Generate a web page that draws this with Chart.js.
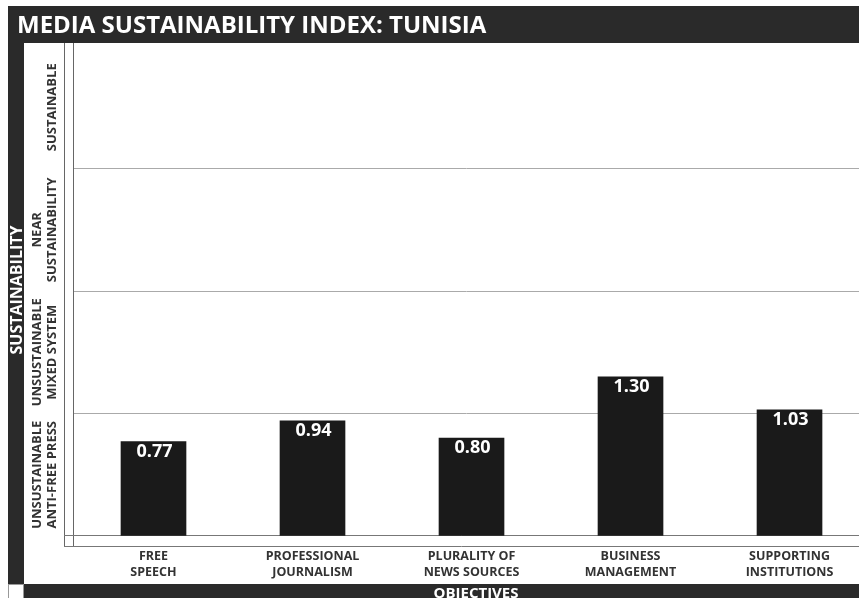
<!DOCTYPE html>
<html lang="en">
<head>
    <meta charset="UTF-8">
    <title>Media Sustainability Index: Tunisia</title>
    <script src="https://cdn.jsdelivr.net/npm/chart.js"></script>
    <style>
        body {
            margin: 0;
            background: #fff;
        }
        #wrap {
            position: relative;
            width: 859px;
            height: 598px;
        }
    </style>
</head>
<body>
    <div id="wrap">
        <canvas id="msiChart" width="859" height="598"></canvas>
    </div>

    <script>
        // Data
        const objectives = [
            ['FREE', 'SPEECH'],
            ['PROFESSIONAL', 'JOURNALISM'],
            ['PLURALITY OF', 'NEWS SOURCES'],
            ['BUSINESS', 'MANAGEMENT'],
            ['SUPPORTING', 'INSTITUTIONS']
        ];
        const scores = [0.77, 0.94, 0.80, 1.30, 1.03];
        const bands = [
            ['UNSUSTAINABLE', 'ANTI-FREE PRESS'],
            ['UNSUSTAINABLE', 'MIXED SYSTEM'],
            ['NEAR', 'SUSTAINABILITY'],
            ['SUSTAINABLE']
        ];
        const bandTicks = [0, 1, 2, 3, 4];

        const dark = '#2a2a2a';
        const font = "'Open Sans', sans-serif";

        // frame: title bar, side strip, bottom bar, axis lines, band labels
        const framePlugin = {
            id: 'frame',
            beforeDraw(chart) {
                const ctx = chart.ctx;
                const area = chart.chartArea;
                const y = chart.scales.y;
                ctx.save();
                ctx.fillStyle = dark;
                ctx.fillRect(8, 6, 851, 37);
                ctx.fillRect(8, 43, 16, 541);
                ctx.fillRect(24, 584, 835, 14);
                // little white box bottom-left
                ctx.fillStyle = '#fff';
                ctx.fillRect(9, 585, 14, 13);
                ctx.strokeStyle = '#999';
                ctx.lineWidth = 1;
                ctx.strokeRect(8.5, 584.5, 15, 14);

                // title
                ctx.fillStyle = '#fff';
                ctx.font = 'bold 24px ' + font;
                ctx.textBaseline = 'alphabetic';
                ctx.textAlign = 'left';
                ctx.fillText('MEDIA SUSTAINABILITY INDEX: TUNISIA', 17, 33);

                // bottom axis title
                ctx.font = 'bold 15px ' + font;
                ctx.textAlign = 'center';
                ctx.fillText('OBJECTIVES', 476, 598);

                // side axis title
                ctx.save();
                ctx.translate(17, 290);
                ctx.rotate(-Math.PI / 2);
                ctx.font = 'bold 16px ' + font;
                ctx.textBaseline = 'middle';
                ctx.fillText('SUSTAINABILITY', 0, 0);
                ctx.restore();

                // double axis lines
                ctx.strokeStyle = '#666';
                ctx.beginPath();
                ctx.moveTo(64.5, 43);
                ctx.lineTo(64.5, 547);
                ctx.moveTo(area.left - 0.5, 43);
                ctx.lineTo(area.left - 0.5, 547);
                ctx.stroke();
                ctx.strokeStyle = '#777';
                ctx.beginPath();
                ctx.moveTo(64, 546.5);
                ctx.lineTo(859, 546.5);
                ctx.moveTo(64, area.bottom - 0.5);
                ctx.lineTo(859, area.bottom - 0.5);
                ctx.stroke();

                // band labels, centred in each band
                ctx.fillStyle = '#333';
                ctx.font = 'bold 13px ' + font;
                ctx.textAlign = 'center';
                ctx.textBaseline = 'middle';
                bands.forEach((lines, i) => {
                    const cy = y.getPixelForValue(i + 0.5);
                    lines.forEach((t, j) => {
                        const cx = 52 - (lines.length - 1 - j) * 15;
                        ctx.save();
                        ctx.translate(cx, cy);
                        ctx.rotate(-Math.PI / 2);
                        ctx.fillText(t, 0, 0);
                        ctx.restore();
                    });
                });
                ctx.restore();
            }
        };

        // value labels inside the top of each bar
        const valuePlugin = {
            id: 'values',
            afterDatasetsDraw(chart) {
                const ctx = chart.ctx;
                const meta = chart.getDatasetMeta(0);
                ctx.save();
                ctx.fillStyle = '#fff';
                ctx.font = 'bold 18px ' + font;
                ctx.textAlign = 'center';
                ctx.textBaseline = 'top';
                meta.data.forEach((bar, i) => {
                    ctx.fillText(scores[i].toFixed(2), bar.x + 1, bar.y + 1);
                });
                ctx.restore();
            }
        };

        const ctx = document.getElementById('msiChart').getContext('2d');
        new Chart(ctx, {
            type: 'bar',
            data: {
                datasets: [{
                    data: scores.map((v, i) => ({ x: i, y: v })),
                    backgroundColor: '#1a1a1a',
                    barThickness: 65
                }]
            },
            options: {
                responsive: false,
                animation: false,
                devicePixelRatio: 1,
                layout: {
                    padding: { left: 74, top: 46, right: 0, bottom: 14 }
                },
                plugins: {
                    legend: { display: false },
                    tooltip: { enabled: false }
                },
                scales: {
                    x: {
                        type: 'linear',
                        offset: false,
                        min: -0.5,
                        max: 4.437,
                        afterBuildTicks: s => {
                            s.ticks = objectives.map((_, i) => ({ value: i }));
                        },
                        afterFit: s => { s.height = 48; },
                        grid: { display: false, drawTicks: false, offset: false },
                        border: { display: false },
                        ticks: {
                            autoSkip: false,
                            maxRotation: 0,
                            padding: 12,
                            color: '#333',
                            font: { family: font, size: 12.5, weight: 'bold', lineHeight: 1.28 },
                            callback: v => objectives[v]
                        }
                    },
                    y: {
                        min: 0,
                        max: 4,
                        afterBuildTicks: s => {
                            s.ticks = bandTicks.map(v => ({ value: v }));
                        },
                        afterFit: s => { s.width = 0; },
                        grid: {
                            drawTicks: false,
                            color: c => (c.tick.value > 0 && c.tick.value < 4) ? '#aaa' : 'rgba(0,0,0,0)'
                        },
                        border: { display: false },
                        ticks: { display: false }
                    }
                }
            },
            plugins: [framePlugin, valuePlugin]
        });
    </script>
</body>
</html>
